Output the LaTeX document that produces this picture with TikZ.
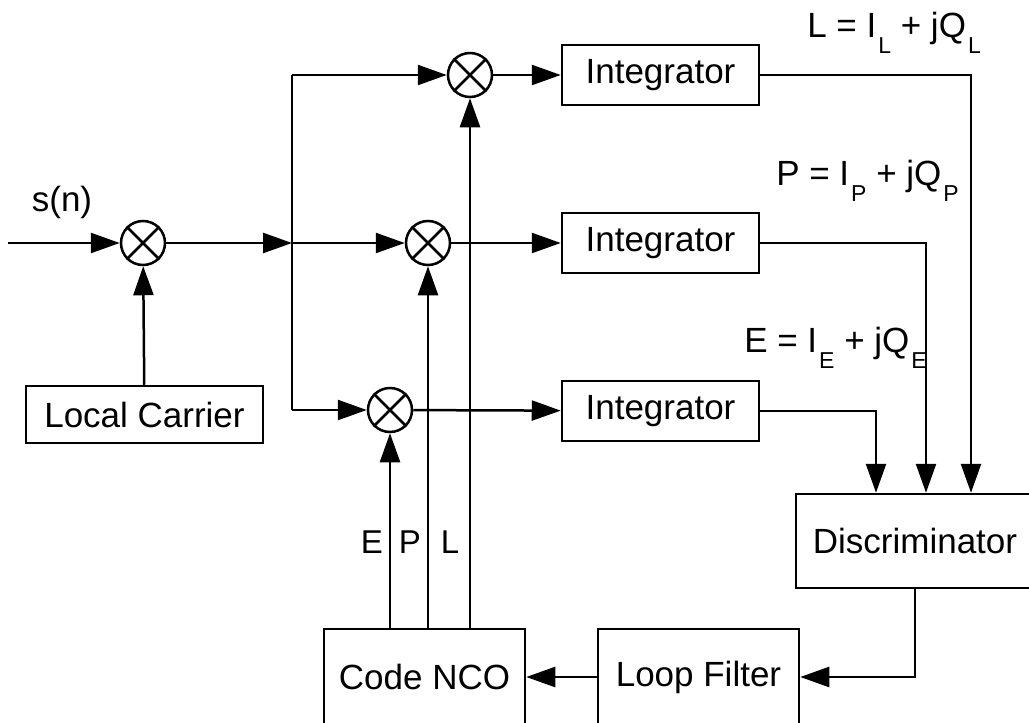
\documentclass[tikz,border=0pt]{standalone}
\usepackage{fontspec}
\setmainfont{Liberation Sans}
\usetikzlibrary{arrows.meta}
\newcommand{\subs}[1]{\kern2pt\raisebox{-16pt}{\fontsize{23}{23}\selectfont #1}}
\begin{document}
\begin{tikzpicture}[x=1pt,y=-1pt, line width=2.5pt,
  font=\fontsize{35}{40}\selectfont,
  blk/.style={draw, rectangle, inner sep=0pt, minimum height=60pt},
  mix/.style={draw, circle, inner sep=0pt, minimum size=44pt},
  arr/.style={-{Triangle[length=29pt,width=20pt]}},
  lbl/.style={inner sep=0pt}]
\useasboundingbox (0,0) rectangle (1029,723);
% mixers
\node[mix] (m1) at (143,243) {};
\node[mix] (mL) at (470,75) {};
\node[mix] (mP) at (428,243) {};
\node[mix] (mE) at (390,410) {};
\foreach \m in {m1,mL,mP,mE} \draw (\m.45) -- (\m.225) (\m.135) -- (\m.315);
% blocks
\node[blk, minimum width=237pt, minimum height=57pt] (lc) at (144.5,414.5) {Local Carrier};
\node[blk, minimum width=197pt] (iL) at (660.5,75) {Integrator};
\node[blk, minimum width=197pt] (iP) at (660.5,243) {Integrator};
\node[blk, minimum width=197pt] (iE) at (660.5,411) {Integrator};
\node[blk, minimum width=238pt, minimum height=94pt] (disc) at (915,541) {Discriminator};
\node[blk, minimum width=201pt, minimum height=96pt] (lf) at (698.5,677) {Loop Filter};
\node[blk, minimum width=201pt, minimum height=96pt] (nco) at (424.5,677) {Code NCO};
% coordinates
\coordinate (in) at (8,243);
\coordinate (J) at (292,243);
\coordinate (Jt) at (292,75);
\coordinate (Jb) at (292,410);
\coordinate (cL) at (971,0);
\coordinate (cP) at (926,0);
\coordinate (cE) at (876,0);
% labels
\node[lbl] (sn) at (62,202) {s(n)};
\node[lbl, font=\fontsize{33}{36}\selectfont] (lE) at (372,542) {E};
\node[lbl, font=\fontsize{33}{36}\selectfont] (lP) at (410,542) {P};
\node[lbl, font=\fontsize{33}{36}\selectfont] (lL) at (450,542) {L};
\node[lbl, anchor=base west] (eqL) at (806,37) {L = I\subs{L} + jQ\subs{L}};
\node[lbl, anchor=base west] (eqP) at (775,185) {P = I\subs{P} + jQ\subs{P}};
\node[lbl, anchor=base west] (eqE) at (743,352) {E = I\subs{E} + jQ\subs{E}};
% connectors
\draw[arr] (in) -- (m1);
\draw[arr] (lc) -- (m1);
\draw[arr] (m1) -- (J);
\draw (Jt) -- (Jb);
\draw[arr] (Jt) -- (mL);
\draw[arr] (J) -- (mP);
\draw[arr] (Jb) -- (mE);
\draw[arr] (mL) -- (iL);
\draw[arr] (mP) -- (iP);
\draw[arr] (mE) -- (iE);
\draw[arr] (iL.east) -| (disc.north -| cL);
\draw[arr] (iP.east) -| (disc.north -| cP);
\draw[arr] (iE.east) -| (disc.north -| cE);
\draw[arr] (disc.south) |- (lf.east);
\draw[arr] (lf) -- (nco);
\draw[arr] (nco.north -| mE) -- (mE);
\draw[arr] (nco.north -| mP) -- (mP);
\draw[arr] (nco.north -| mL) -- (mL);
\end{tikzpicture}
\end{document}
